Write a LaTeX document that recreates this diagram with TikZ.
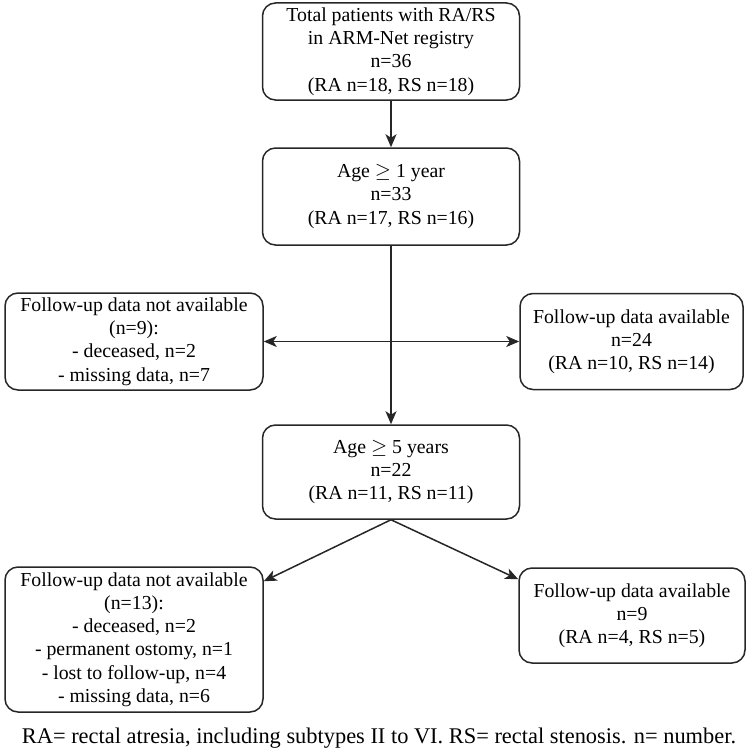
\documentclass[tikz,border=0pt]{standalone}
\usepackage{fontspec}
\setmainfont{Liberation Serif}
\usetikzlibrary{arrows.meta,calc}
\begin{document}
\begin{tikzpicture}[x=1pt,y=-1pt,
  box/.style={draw=black!85, line width=1.5pt, rounded corners=13pt, align=center,
    inner sep=0pt, font=\fontsize{19.8}{23.2}\selectfont},
  conn/.style={draw=black!85, line width=1.5pt, -{Stealth[length=13pt,width=11pt,inset=3.5pt]}},
  dconn/.style={draw=black!85, line width=1.5pt, {Stealth[length=13pt,width=11pt,inset=3.5pt]}-{Stealth[length=13pt,width=11pt,inset=3.5pt]}}]
\useasboundingbox (0,0) rectangle (749,752);
\node[box, minimum width=257pt, minimum height=97pt] (A) at (391,51.5)
  {Total patients with RA/RS\\in ARM-Net registry\\n=36\\(RA n=18, RS n=18)};
\node[box, minimum width=257pt, minimum height=97pt] (B) at (391,196.5)
  {Age $\geq$ 1 year\\n=33\\(RA n=17, RS n=16)};
\node[box, minimum width=258pt, minimum height=97pt] (L1) at (134,341.5)
  {Follow-up data not available\\(n=9):\\- deceased, n=2\\- missing data, n=7};
\node[box, minimum width=223pt, minimum height=96pt] (R1) at (631.5,341.5)
  {Follow-up data available\\n=24\\(RA n=10, RS n=14)};
\node[box, minimum width=257pt, minimum height=94pt] (C) at (391,472)
  {Age $\geq$ 5 years\\n=22\\(RA n=11, RS n=11)};
\node[box, minimum width=258pt, minimum height=145pt] (L2) at (134,639.5)
  {Follow-up data not available\\(n=13):\\- deceased, n=2\\- permanent ostomy, n=1\\- lost to follow-up, n=4\\- missing data, n=6};
\node[box, minimum width=226pt, minimum height=95pt] (R2) at (632,615.5)
  {Follow-up data available\\n=9\\(RA n=4, RS n=5)};
\node[font=\fontsize{22.4}{26}\selectfont, inner sep=0pt] (foot) at (379,738)
  {RA= rectal atresia, including subtypes II to VI. RS= rectal stenosis. n= number.};
\coordinate (l2in) at ($(L2.north east)+(0,15)$);
\coordinate (r2in) at ($(R2.north west)+(0,12)$);
\draw[conn] (A) -- (B);
\draw[conn] (B) -- (C);
\draw[dconn] (L1.east) -- (R1.west);
\draw[conn] (C.south) -- (l2in);
\draw[conn] (C.south) -- (r2in);
\end{tikzpicture}
\end{document}
